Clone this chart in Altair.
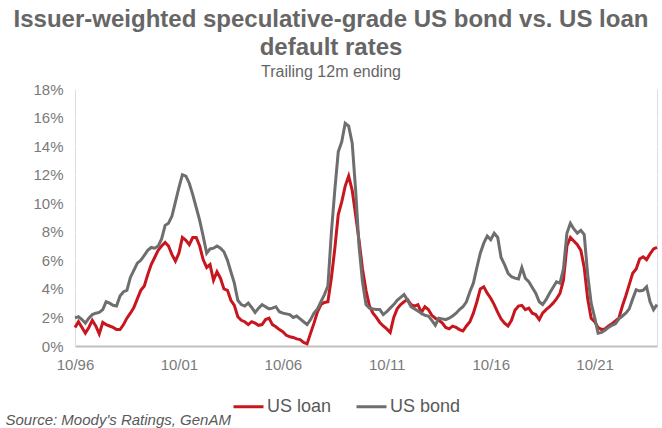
import altair as alt
import pandas as pd

# Bimonthly observations, Oct 1996 .. Oct 2024 (trailing 12m default rates, %)
start_date = "1996-10-01"
n_obs = 169

us_loan = [
    1.3, 1.7, 1.3, 0.9, 1.3, 1.8, 1.4, 0.85, 1.65, 1.5,
    1.4, 1.3, 1.15, 1.15, 1.5, 1.95, 2.3, 2.7, 3.3, 3.9,
    4.2, 5.0, 5.7, 6.2, 6.7, 7.0, 7.25, 7.0, 6.4, 5.95,
    6.5, 7.6, 7.4, 7.1, 7.6, 7.6, 7.0, 6.05, 5.5, 5.7,
    4.6, 5.2, 4.75, 4.0, 3.9, 3.2, 2.85, 2.05, 1.8, 1.7,
    1.5, 1.7, 1.6, 1.45, 1.5, 1.85, 1.95, 1.5, 1.35, 1.15,
    1.0, 0.75, 0.65, 0.6, 0.5, 0.45, 0.25, 0.15, 0.9, 1.6,
    2.4, 2.9, 3.05, 3.1, 4.8, 6.8, 9.2, 10.1, 11.2, 11.9,
    10.9, 9.2, 7.4, 5.4, 3.9, 2.8, 2.3, 2.0, 1.65, 1.4,
    1.2, 0.95, 2.0, 2.6, 2.9, 3.1, 3.25, 2.9, 2.8, 2.9,
    2.35, 2.75, 2.55, 2.15, 1.95, 1.8, 1.62, 1.3, 1.2, 1.39,
    1.3, 1.15, 1.05, 1.4, 1.7, 2.3, 3.1, 4.0, 4.15, 3.7,
    3.35, 2.9, 2.35, 1.9, 1.6, 1.4, 1.8, 2.5, 2.8, 2.85,
    2.55, 2.65, 2.3, 2.2, 1.85, 2.3, 2.55, 2.75, 3.0, 3.3,
    3.7, 4.6, 7.0, 7.6, 7.35, 7.1, 6.7, 5.5, 3.3, 1.95,
    1.7, 1.3, 1.15, 1.2, 1.4, 1.55, 1.75, 1.95, 2.8, 3.5,
    4.3, 5.1, 5.4, 6.1, 6.25, 6.05, 6.45, 6.8, 6.9,
]

us_bond = [
    1.97, 2.05, 1.85, 1.6, 1.95, 2.2, 2.3, 2.35, 2.55, 3.1,
    3.0, 2.85, 2.8, 3.5, 3.8, 3.9, 4.8, 5.3, 5.8, 6.0,
    6.35, 6.7, 6.9, 6.85, 7.0, 7.5, 8.45, 8.6, 9.1, 10.1,
    11.1, 12.0, 11.9, 11.4, 10.6, 9.7, 8.8, 7.7, 6.5, 6.8,
    6.85, 7.0, 6.85, 6.6, 6.0, 5.2, 4.4, 3.2, 2.9, 2.8,
    3.0, 2.7, 2.35, 2.65, 2.9, 2.75, 2.6, 2.65, 2.75, 2.4,
    2.3, 2.25, 2.2, 2.0, 2.1, 1.9, 1.7, 1.5, 1.85, 2.3,
    2.6, 3.1, 3.6, 4.2, 8.0, 10.9, 13.6, 14.3, 15.6, 15.4,
    14.2, 11.0, 7.0, 4.5, 2.9, 2.65, 2.6, 2.55, 2.55, 2.2,
    2.4, 2.65, 2.9, 3.2, 3.4, 3.6, 3.2, 2.75, 2.6, 2.45,
    2.3, 2.15, 2.1, 1.8, 1.45, 1.95, 1.9, 1.85, 1.95, 2.1,
    2.3, 2.55, 2.75, 3.1, 3.8, 4.4, 5.5, 6.5, 7.2, 7.7,
    7.45, 7.9, 7.6, 6.2, 5.7, 5.1, 4.85, 4.75, 4.7, 5.5,
    4.75, 4.5, 4.1, 3.7, 3.1, 2.9, 3.25, 3.7, 4.1, 4.5,
    4.4, 5.4, 7.9, 8.6, 8.2, 7.9, 8.1, 7.8, 5.0, 3.0,
    2.0, 0.9, 0.95, 1.1, 1.3, 1.45, 1.55, 1.9, 2.1, 2.3,
    2.6, 3.3, 3.95, 3.85, 3.9, 4.15, 3.1, 2.55, 2.9,
]

series_names = ["US loan", "US bond"]
series_colors = ["#c8161e", "#6e6e6e"]
tick_years = [1996, 2001, 2006, 2011, 2016, 2021]

title_lines = ["Issuer-weighted speculative-grade US bond vs. US loan", "default rates"]
subtitle_text = "Trailing 12m ending"
source_text = "Source: Moody's Ratings, GenAM"

dates = pd.date_range(start_date, periods=n_obs, freq="2MS").strftime("%Y-%m-%d")
df = pd.concat([
    pd.DataFrame({"date": dates, "rate": us_loan, "series": series_names[0]}),
    pd.DataFrame({"date": dates, "rate": us_bond, "series": series_names[1]}),
], ignore_index=True)

FONT = "Liberation Sans"

x_enc = alt.X(
    "date:T",
    scale=alt.Scale(type="utc", domain=[alt.DateTime(year=1996, month=10, date=1, utc=True),
                                         alt.DateTime(year=2024, month=10, date=1, utc=True)]),
    axis=alt.Axis(
        values=[alt.DateTime(year=y, month=10, date=1, utc=True) for y in tick_years],
        labelExpr="utcFormat(datum.value, '%m/%y')",
        labelFlush=False, ticks=False, tickSize=0, grid=False,
        labelFontSize=15, labelColor="#7a7a7a", labelFont=FONT, labelPadding=11,
        domainColor="#bfbfbf", domainWidth=2,
        title=source_text, titleFont=FONT, titleFontStyle="italic", titleFontWeight="normal",
        titleFontSize=15, titleColor="#595959", titleAlign="left", titleAnchor="start",
        titleX=-70, titleY=78, titleBaseline="alphabetic",
    ),
)

y_enc = alt.Y(
    "rate:Q",
    scale=alt.Scale(domain=[0, 18], nice=False),
    axis=alt.Axis(
        values=list(range(0, 19, 2)), labelExpr="datum.value + '%'",
        ticks=False, tickSize=0, domain=False, title=None,
        labelFontSize=15, labelColor="#7a7a7a", labelFont=FONT, labelPadding=12,
        gridColor="#ffffff", gridWidth=1.5,
    ),
)

chart = alt.Chart(df).mark_line(strokeWidth=3).encode(
    x=x_enc,
    y=y_enc,
    color=alt.Color(
        "series:N",
        scale=alt.Scale(domain=series_names, range=series_colors),
        legend=alt.Legend(
            orient="none", legendX=157, legendY=301, direction="horizontal", title=None,
            symbolType="stroke", symbolStrokeWidth=3, symbolSize=900,
            labelFontSize=18, labelColor="#595959", labelFont=FONT,
            labelOffset=2, columnPadding=18,
        ),
    ),
).properties(
    width=582,
    height=257,
    title=alt.Title(
        text=title_lines, subtitle=subtitle_text,
        font=FONT, fontSize=24, fontWeight="bold", color="#666666", lineHeight=28,
        subtitleFont=FONT, subtitleFontSize=16, subtitleColor="#666666", subtitlePadding=4,
        anchor="middle", dx=-35, offset=2,
    ),
    autosize=alt.AutoSizeParams(type="none"),
    padding={"left": 75, "top": 89, "right": 5, "bottom": 82},
).configure_view(
    fill="#f7f7f7", stroke=None
).configure(
    background="#ffffff"
)

chart.save("out.html", embed_options={"renderer": "svg", "actions": False})
